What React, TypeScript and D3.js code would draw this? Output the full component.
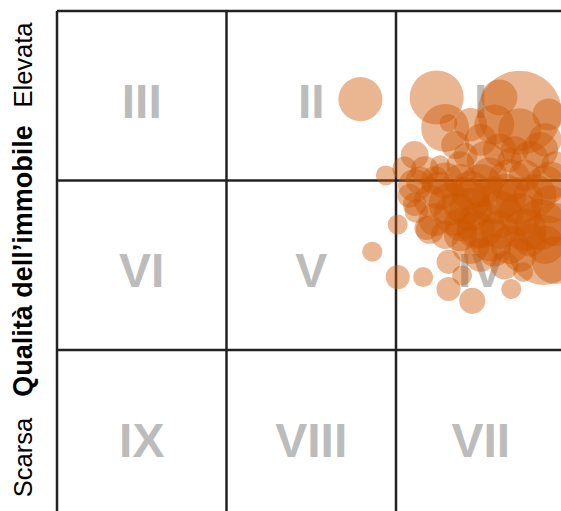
import React from "react";
import * as d3 from "d3";

// Bubble data: x = location quality score (0-300), y = building quality score (0-300), size
const bubbleX = [
  179, 224, 229, 231, 261, 273, 290, 250, 270, 241, 211, 285, 258,
  194, 205, 214, 208, 220, 229, 238, 244, 255, 264, 276, 288, 294,
  223, 235, 250, 261, 273, 285, 244, 258, 212, 238, 279, 226, 267, 291,
  201, 218, 186, 201, 216, 231, 231, 239, 245, 268, 275, 287,
  211, 217, 226, 232, 241, 250, 258, 267, 273, 282, 291, 294, 288, 276,
  267, 256, 247, 238, 229, 220, 244, 261, 253, 261, 279, 288, 238, 223,
  211, 250, 264, 273, 294, 273, 244, 235,
];
const bubbleY = [
  248, 249, 231, 234, 249, 240, 239, 224, 218, 215, 215, 218, 233,
  203, 207, 200, 191, 188, 200, 209, 194, 203, 191, 203, 197, 209,
  177, 180, 174, 171, 180, 174, 162, 159, 182, 168, 165, 209, 212, 186,
  174, 172, 158, 143, 143, 152, 136, 144, 129, 136, 146, 159,
  197, 206, 194, 186, 188, 197, 188, 200, 188, 191, 200, 174, 162, 171,
  162, 165, 171, 174, 168, 171, 183, 180, 212, 218, 212, 224, 200, 200,
  186, 156, 150, 156, 153, 230, 233, 221,
];
const bubbleSize = [
  194, 292, 230, 32, 130, 706, 102, 102, 78, 58, 78, 130, 160,
  40, 58, 78, 58, 102, 130, 78, 160, 130, 194, 102, 160, 78,
  110, 185, 225, 145, 185, 260, 145, 110, 55, 110, 110, 40, 58, 145,
  40, 58, 40, 58, 40, 58, 58, 40, 68, 40, 40, 490,
  110, 80, 145, 185, 225, 185, 225, 185, 225, 185, 145, 185, 145, 185,
  145, 185, 145, 110, 80, 80, 185, 225, 145, 110, 145, 110, 110, 80,
  55, 110, 80, 110, 225, 185, 110, 80,
];

const cellLabels = [
  ["III", "II", "I"],
  ["VI", "V", "IV"],
  ["IX", "VIII", "VII"],
];
const axisLabelLow = "Scarsa";
const axisLabelTitle = "Qualità dell’immobile";
const axisLabelHigh = "Elevata";

export default function App() {
  const width = 561;
  const height = 511;
  const left = 57;
  const top = 11;
  const cell = 169.5;

  const x = d3.scaleLinear().domain([0, 300]).range([left, left + 3 * cell]);
  const y = d3.scaleLinear().domain([0, 300]).range([top + 3 * cell, top]);
  const r = d3.scaleSqrt().domain([0, 1000]).range([0, 50]);

  const bounds = [0, 100, 200, 300];
  const font = "'Liberation Sans', Arial, sans-serif";

  return (
    <svg
      width={width}
      height={height}
      style={{ position: "absolute", left: 0, top: 0, background: "#fff" }}
    >
      <rect x={0} y={0} width={width} height={height} fill="#fff" />
      {/* roman numerals */}
      {cellLabels.map((row, ri) =>
        row.map((lab, ci) => (
          <text
            key={lab}
            x={x(ci * 100 + 50)}
            y={y(300 - ri * 100 - 50) + 22}
            textAnchor="middle"
            fontFamily={font}
            fontWeight="bold"
            fontSize={48}
            fill="#bcbcbc"
          >
            {lab}
          </text>
        ))
      )}
      {/* grid */}
      {bounds.map((b) => (
        <line
          key={"v" + b}
          x1={x(b)}
          x2={x(b)}
          y1={y(300)}
          y2={y(0)}
          stroke="#222"
          strokeWidth={2.5}
        />
      ))}
      {bounds.map((b) => (
        <line
          key={"h" + b}
          x1={x(0)}
          x2={x(300)}
          y1={y(b)}
          y2={y(b)}
          stroke="#222"
          strokeWidth={2.5}
        />
      ))}
      {/* bubbles */}
      <g>
        {bubbleX.map((bx, i) => (
          <circle
            key={i}
            cx={x(bx)}
            cy={y(bubbleY[i])}
            r={r(bubbleSize[i])}
            fill="#cc5500"
            fillOpacity={0.43}
          />
        ))}
      </g>
      {/* axis labels */}
      <g fontFamily={font} fill="#000">
        <text transform="translate(32,457.5) rotate(-90)" textAnchor="middle" fontSize={25.5}>
          {axisLabelLow}
        </text>
        <text
          transform="translate(32,261) rotate(-90)"
          textAnchor="middle"
          fontWeight="bold"
          fontSize={27}
        >
          {axisLabelTitle}
        </text>
        <text transform="translate(32,65) rotate(-90)" textAnchor="middle" fontSize={25.5}>
          {axisLabelHigh}
        </text>
      </g>
    </svg>
  );
}
